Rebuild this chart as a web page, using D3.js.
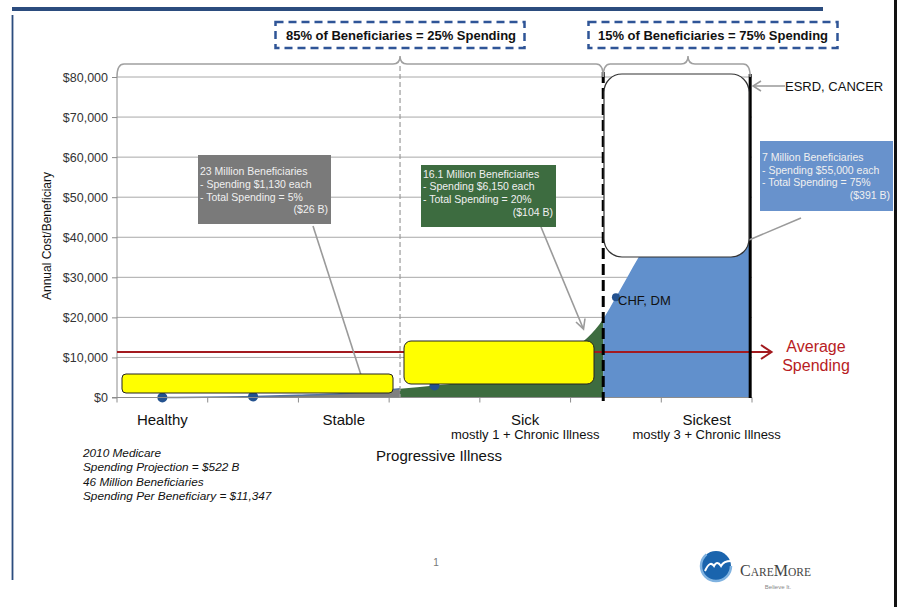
<!DOCTYPE html>
<html>
<head>
<meta charset="utf-8">
<script src="https://cdn.jsdelivr.net/npm/d3@7"></script>
<style>
  body { margin: 0; background: #fff; }
  svg { display: block; font-family: "Liberation Sans", Arial, sans-serif; }
</style>
</head>
<body>
<svg id="chart" width="899" height="607"></svg>
<script>
// categories on the x axis (every other slot is unlabeled)
var categories = ["Healthy", "", "Stable", "", "Sick", "", "Sickest"];
var subLabels = ["", "", "", "", "mostly 1 + Chronic Illness", "", "mostly 3 + Chronic Illness"];
var yTicks = [0, 10000, 20000, 30000, 40000, 50000, 60000, 70000, 80000];

// cost curve: [category position, annual cost]
var costCurve = [
  [1, 250], [1.5, 550], [2, 1000], [2.62, 2200],
  [3, 3000], [3.5, 4200], [4, 6000], [4.5, 11500], [4.86, 19600],
  [5, 25000], [5.25, 35000], [5.5, 44000], [6, 60000], [6.48, 78500]
];
var healthyLine = [[0, 0], [1, 250], [1.5, 550], [2, 1000], [2.62, 2200]];
var markers = [[0, 0], [1, 250], [3, 3000], [5, 25000]];
var segmentEdges = [1, 2.62, 4.86, 6.48];   // stable | sick | sickest
var segmentColors = ["#7f7f7f", "#3d6c40", "#6190cc"];
var avgSpending = 11347;

var groupLabels = ["85% of Beneficiaries = 25% Spending", "15% of Beneficiaries = 75% Spending"];
var grayNote = ["23 Million Beneficiaries", "- Spending $1,130 each", "- Total Spending = 5%", "($26 B)"];
var greenNote = ["16.1 Million Beneficiaries", "- Spending $6,150 each", "- Total Spending = 20%", "($104 B)"];
var blueNote = ["7 Million Beneficiaries", "- Spending $55,000 each", "- Total Spending = 75%", "($391 B)"];
var footNote = ["2010 Medicare", "Spending Projection = $522 B", "46 Million Beneficiaries", "Spending Per Beneficiary = $11,347"];

var svg = d3.select("#chart");
var x = d3.scaleLinear().domain([-0.5, 6.5]).range([117, 752]);
var y = d3.scaleLinear().domain([0, 80000]).range([397.5, 77]);

// slide frame
svg.append("rect").attr("x", 12).attr("y", 7).attr("width", 811).attr("height", 4).attr("fill", "#2b4c7e");
svg.append("line").attr("x1", 12.5).attr("x2", 12.5).attr("y1", 15).attr("y2", 580)
  .attr("stroke", "#2b4c7e").attr("stroke-width", 1.8);
svg.append("rect").attr("x", 894).attr("y", 0).attr("width", 3).attr("height", 607).attr("fill", "#111");

// gridlines
svg.append("g").selectAll("line").data(yTicks.slice(1)).enter().append("line")
  .attr("x1", x(-0.5)).attr("x2", x(6.5))
  .attr("y1", function(d) { return y(d); }).attr("y2", function(d) { return y(d); })
  .attr("stroke", "#a8a8a8").attr("stroke-width", 1);

// areas, one colour per segment
var area = d3.area()
  .x(function(d) { return x(d[0]); })
  .y0(y(0))
  .y1(function(d) { return y(d[1]); })
  .curve(d3.curveMonotoneX);

var defs = svg.append("defs");
segmentColors.forEach(function(c, i) {
  defs.append("clipPath").attr("id", "seg" + i).append("rect")
    .attr("x", x(segmentEdges[i])).attr("y", 0)
    .attr("width", x(segmentEdges[i + 1]) - x(segmentEdges[i])).attr("height", 600);
  svg.append("path").datum(costCurve)
    .attr("d", area).attr("fill", c)
    .attr("clip-path", "url(#seg" + i + ")");
});

// series line + markers
svg.append("path").datum(healthyLine)
  .attr("d", d3.line().x(function(d) { return x(d[0]); }).y(function(d) { return y(d[1]); }).curve(d3.curveMonotoneX))
  .attr("fill", "none").attr("stroke", "#5573a0").attr("stroke-width", 1.5);
svg.append("g").selectAll("circle").data(markers).enter().append("circle")
  .attr("cx", function(d) { return x(d[0]); })
  .attr("cy", function(d) { return y(d[1]); })
  .attr("r", function(d, i) { return i == 3 ? 4 : 5; })
  .attr("fill", "#24528f");

// axes
var yAxis = d3.axisLeft(y).tickValues(yTicks).tickSize(5).tickPadding(4)
  .tickFormat(function(d) { return "$" + d3.format(",")(d); });
var gy = svg.append("g").attr("transform", "translate(" + x(-0.5) + ",0)").call(yAxis);
gy.select(".domain").attr("stroke", "#8c8c8c").attr("d", "M-5," + y(0) + "H0V" + y(80000));
gy.selectAll(".tick line").attr("stroke", "#8c8c8c");
gy.selectAll(".tick text").attr("font-size", "12.5px").attr("fill", "#333")
  .attr("font-family", "Liberation Sans, Arial, sans-serif");

var tickPos = d3.range(0, 8).map(function(i) { return i - 0.5; });
svg.append("line").attr("x1", x(-0.5)).attr("x2", x(6.5)).attr("y1", y(0)).attr("y2", y(0))
  .attr("stroke", "#8c8c8c");
svg.append("g").selectAll("line").data(tickPos).enter().append("line")
  .attr("x1", function(d) { return x(d); }).attr("x2", function(d) { return x(d); })
  .attr("y1", y(0)).attr("y2", y(0) + 5).attr("stroke", "#8c8c8c");

svg.append("g").selectAll("text").data(categories).enter().append("text")
  .attr("x", function(d, i) { return x(i); }).attr("y", 424.5)
  .attr("text-anchor", "middle").attr("font-size", "15px").attr("fill", "#111")
  .text(function(d) { return d; });
svg.append("g").selectAll("text").data(subLabels).enter().append("text")
  .attr("x", function(d, i) { return x(i); }).attr("y", 438.5)
  .attr("text-anchor", "middle").attr("font-size", "13px").attr("fill", "#111")
  .text(function(d) { return d; });
svg.append("text").attr("x", 439).attr("y", 461).attr("text-anchor", "middle")
  .attr("font-size", "15px").attr("fill", "#111").text("Progressive Illness");
svg.append("text").attr("transform", "translate(51,236) rotate(-90)").attr("text-anchor", "middle")
  .attr("font-size", "12px").attr("fill", "#111").text("Annual Cost/Beneficiary");

// average spending line with arrow
var ay = y(avgSpending);
svg.append("line").attr("x1", x(-0.5)).attr("x2", 771).attr("y1", ay).attr("y2", ay)
  .attr("stroke", "#a31a1f").attr("stroke-width", 2);
svg.append("path").attr("d", "M761," + (ay - 7) + "L771.5," + ay + "L761," + (ay + 7))
  .attr("fill", "none").attr("stroke", "#a31a1f").attr("stroke-width", 2);
svg.append("text").attr("x", 816).attr("y", 351.5).attr("text-anchor", "middle")
  .attr("font-size", "16px").attr("fill", "#b81c24").text("Average");
svg.append("text").attr("x", 816).attr("y", 370.5).attr("text-anchor", "middle")
  .attr("font-size", "16px").attr("fill", "#b81c24").text("Spending");

// segment dividers
svg.append("line").attr("x1", x(segmentEdges[1])).attr("x2", x(segmentEdges[1]))
  .attr("y1", 66).attr("y2", y(0))
  .attr("stroke", "#9a9a9a").attr("stroke-width", 1.2).attr("stroke-dasharray", "5,3");
svg.append("line").attr("x1", x(segmentEdges[2])).attr("x2", x(segmentEdges[2]))
  .attr("y1", 72).attr("y2", 401)
  .attr("stroke", "#000").attr("stroke-width", 3).attr("stroke-dasharray", "11,5");
svg.append("line").attr("x1", x(segmentEdges[3])).attr("x2", x(segmentEdges[3]))
  .attr("y1", 74).attr("y2", 398)
  .attr("stroke", "#000").attr("stroke-width", 3);

// leader lines
svg.append("line").attr("x1", 313).attr("y1", 226).attr("x2", 361).attr("y2", 375)
  .attr("stroke", "#9a9a9a").attr("stroke-width", 1.6);
svg.append("line").attr("x1", 541).attr("y1", 227).attr("x2", 583).attr("y2", 328)
  .attr("stroke", "#9a9a9a").attr("stroke-width", 1.6);
svg.append("path").attr("d", "M576,322L583.5,329L585,318.5")
  .attr("fill", "none").attr("stroke", "#9a9a9a").attr("stroke-width", 1.6);
svg.append("line").attr("x1", 801).attr("y1", 218).attr("x2", 749).attr("y2", 240)
  .attr("stroke", "#9a9a9a").attr("stroke-width", 1.6);

// cover boxes
svg.append("rect").attr("x", 122).attr("y", 374).attr("width", 271).attr("height", 19).attr("rx", 4)
  .attr("fill", "#ffff00").attr("stroke", "#222").attr("stroke-width", 1);
svg.append("rect").attr("x", 404).attr("y", 341).attr("width", 190).attr("height", 43).attr("rx", 7)
  .attr("fill", "#ffff00").attr("stroke", "#222").attr("stroke-width", 1);
svg.append("rect").attr("x", 604).attr("y", 74).attr("width", 145).attr("height", 183).attr("rx", 18)
  .attr("fill", "#fff").attr("stroke", "#333").attr("stroke-width", 1.2);

// callouts
function callout(lines, bx, by, bw, bh, fill, base) {
  svg.append("rect").attr("x", bx).attr("y", by).attr("width", bw).attr("height", bh).attr("fill", fill);
  var g = svg.append("g").attr("font-size", "10.5px").attr("fill", "#f0f0f0");
  g.selectAll("text").data(lines).enter().append("text")
    .attr("x", function(d, i) { return i == 3 ? bx + bw - 3 : bx + 2; })
    .attr("y", function(d, i) { return base + i * 12.6; })
    .attr("text-anchor", function(d, i) { return i == 3 ? "end" : "start"; })
    .text(function(d) { return d; });
}
callout(grayNote, 198, 155, 133, 69, "#7a7a7a", 175.4);
callout(greenNote, 421, 165, 135, 62, "#3d6c40", 177.8);
callout(blueNote, 760, 141, 133, 70, "#6892cc", 161);

// ESRD, CHF labels
svg.append("line").attr("x1", 753).attr("x2", 785).attr("y1", 86).attr("y2", 86)
  .attr("stroke", "#999").attr("stroke-width", 1.5);
svg.append("path").attr("d", "M761,81L753,86L761,91").attr("fill", "none")
  .attr("stroke", "#999").attr("stroke-width", 1.5);
svg.append("text").attr("x", 785).attr("y", 91).attr("font-size", "13px").attr("fill", "#111")
  .text("ESRD, CANCER");
svg.append("text").attr("x", 618).attr("y", 305).attr("font-size", "13px").attr("fill", "#111")
  .text("CHF, DM");

// braces
function brace(x0, xm, x1) {
  var top = 64, peak = 56, end = 77;
  return "M" + x0 + "," + end + "Q" + x0 + "," + top + " " + (x0 + 7) + "," + top +
    "L" + (xm - 7) + "," + top + "Q" + xm + "," + top + " " + xm + "," + peak +
    "Q" + xm + "," + top + " " + (xm + 7) + "," + top +
    "L" + (x1 - 7) + "," + top + "Q" + x1 + "," + top + " " + x1 + "," + end;
}
svg.append("path").attr("d", brace(x(-0.5), x(segmentEdges[1]), x(segmentEdges[2])))
  .attr("fill", "none").attr("stroke", "#a0a0a0").attr("stroke-width", 1.5);
svg.append("path").attr("d", brace(x(segmentEdges[2]), 688, x(segmentEdges[3])))
  .attr("fill", "none").attr("stroke", "#a0a0a0").attr("stroke-width", 1.5);

// dashed group labels
var boxes = [[275.5, 401], [588.5, 713]];
boxes.forEach(function(b, i) {
  svg.append("rect").attr("x", b[0]).attr("y", 22).attr("width", 249).attr("height", 26)
    .attr("fill", "#fff").attr("stroke", "#2f5597").attr("stroke-width", 2.5)
    .attr("stroke-dasharray", "8,5");
  svg.append("text").attr("x", b[1]).attr("y", 40).attr("text-anchor", "middle")
    .attr("font-size", "13px").attr("font-weight", "bold").attr("fill", "#111")
    .text(groupLabels[i]);
});

// footnote
svg.append("g").selectAll("text").data(footNote).enter().append("text")
  .attr("x", 83).attr("y", function(d, i) { return 457 + i * 14.4; })
  .attr("font-size", "11.8px").attr("font-style", "italic").attr("fill", "#111")
  .text(function(d) { return d; });

// page number
svg.append("text").attr("x", 436).attr("y", 566).attr("text-anchor", "middle")
  .attr("font-size", "10px").attr("fill", "#777").text("1");

// logo
svg.append("circle").attr("cx", 716).attr("cy", 566).attr("r", 15).attr("fill", "#1a64ad");
svg.append("circle").attr("cx", 716).attr("cy", 566).attr("r", 15).attr("fill", "none")
  .attr("stroke", "#7fb2e0").attr("stroke-width", 2.5).attr("stroke-dasharray", "60,40");
svg.append("path").attr("d", "M705,571 Q710,560 714,566 Q717,560 721,566 Q725,559 738,562")
  .attr("fill", "none").attr("stroke", "#fff").attr("stroke-width", 2);
var logoText = svg.append("text").attr("x", 740).attr("y", 576)
  .attr("font-family", "Liberation Serif, DejaVu Serif, serif").attr("fill", "#444");
logoText.append("tspan").attr("font-size", "16px").text("C");
logoText.append("tspan").attr("font-size", "11.5px").text("ARE");
logoText.append("tspan").attr("font-size", "16px").text("M");
logoText.append("tspan").attr("font-size", "11.5px").text("ORE");
svg.append("text").attr("x", 778).attr("y", 589).attr("text-anchor", "middle")
  .attr("font-size", "6px").attr("fill", "#888").text("Believe It.");
</script>
</body>
</html>
